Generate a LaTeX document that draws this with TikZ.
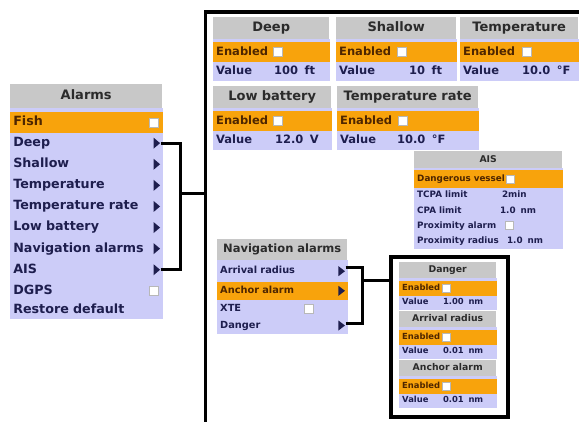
\documentclass[tikz,border=0pt]{standalone}
\usepackage{fontspec}
\setmainfont[WordSpace=1.6]{DejaVu Sans}
\usetikzlibrary{positioning,shapes.geometric}
\definecolor{alarmInk}{HTML}{1E1E4E}
\definecolor{alarmBrown}{HTML}{4E2600}
\definecolor{alarmDark}{HTML}{2B2B2B}
\definecolor{alarmGray}{HTML}{C8C8C8}
\definecolor{alarmOrange}{HTML}{F8A30C}
\definecolor{alarmLilac}{HTML}{CCCCF8}
\tikzset{
  txt head/.style={font=\bfseries\fontsize{13}{14}\selectfont, text height=9.5pt, text depth=2.5pt},
  txt menu/.style={font=\bfseries\fontsize{12.7}{13}\selectfont, text height=9.2pt, text depth=2.5pt},
  txt big/.style={font=\bfseries\fontsize{11.5}{12}\selectfont, text height=8.5pt, text depth=2.5pt},
  txt mid head/.style={font=\bfseries\fontsize{11.5}{12}\selectfont, text height=8.5pt, text depth=2.5pt},
  txt mid/.style={font=\bfseries\fontsize{9.8}{10}\selectfont, text height=7.2pt, text depth=2pt},
  txt small head/.style={font=\bfseries\fontsize{9.3}{10}\selectfont, text height=7pt, text depth=2pt},
  txt small/.style={font=\bfseries\fontsize{8.4}{9}\selectfont, text height=6.2pt, text depth=1.8pt},
  txt ais/.style={font=\bfseries\fontsize{8.8}{9}\selectfont, text height=6.5pt, text depth=1.8pt},
  alarm cell/.style={anchor=north west, inner xsep=3pt, inner ysep=0pt, align=left},
  alarm head/.style={alarm cell, fill=alarmGray, text=alarmDark, align=center},
  alarm on/.style={alarm cell, fill=alarmOrange, draw=alarmOrange, line width=0.6pt, text=alarmBrown},
  alarm row/.style={alarm cell, fill=alarmLilac, draw=alarmLilac, line width=0.6pt, text=alarmInk},
  alarm num/.style={anchor=base west, inner sep=0pt, text=alarmInk},
  alarm check/.style={draw=black!28, fill=white, line width=0.6pt, inner sep=0pt, minimum size=#1},
  alarm check/.default=9pt,
  alarm tip/.style={isosceles triangle, isosceles triangle stretches, fill=alarmInk,
    inner sep=0pt, minimum width=11pt, minimum height=6.5pt},
  alarm frame/.style={draw=black, line width=4pt, anchor=north west, inner sep=0pt},
  alarm link/.style={draw=black, line width=3pt},
  alarm spine/.style={draw=black, line width=3.5pt},
  menu row/.style={alarm row, txt menu, text width=146pt, minimum height=20.5pt},
  big head/.style={alarm head, txt head, minimum height=22pt},
  big on/.style={alarm on, txt big, minimum height=19pt},
  big row/.style={alarm row, txt big, minimum height=18pt},
  mid head/.style={alarm head, txt mid head, minimum height=21pt},
  mid on/.style={alarm on, txt mid},
  mid row/.style={alarm row, txt mid},
  small head/.style={alarm head, txt small head},
  small on/.style={alarm on, txt small},
  small row/.style={alarm row, txt small}
}

\begin{document}
\begin{tikzpicture}[x=1pt,y=-1pt]
  \useasboundingbox (0,0) rectangle (579,421);
  % main alarms menu
  \node[alarm head, txt head, text width=146pt, minimum height=24pt] (alarms) at (10,84) {Alarms};
  \node[alarm on, txt menu, text width=146pt, minimum height=20pt] (fish) at (10,112) {Fish};
  \fill[alarmLilac] (alarms.south west) rectangle (fish.north east);
  \node[menu row, below=0pt of fish] (deep) {Deep};
  \node[menu row, below=0pt of deep] (shallow) {Shallow};
  \node[menu row, below=0pt of shallow] (temp) {Temperature};
  \node[menu row, below=0pt of temp] (tempRate) {Temperature rate};
  \node[menu row, below=0pt of tempRate] (lowBatt) {Low battery};
  \node[menu row, below=0pt of lowBatt] (navAlarms) {Navigation alarms};
  \node[menu row, below=0pt of navAlarms] (ais) {AIS};
  \node[menu row, below=0pt of ais] (dgps) {DGPS};
  \node[menu row, below=0pt of dgps, minimum height=17pt] (restore) {Restore default};
  \node[alarm check, left=4pt of fish.east] (fishBox) {};
  \node[alarm check, left=4pt of dgps.east] (dgpsBox) {};
  \node[alarm tip, left=2pt of deep.east] (deepTip) {};
  \node[alarm tip, left=2pt of shallow.east] (shallowTip) {};
  \node[alarm tip, left=2pt of temp.east] (tempTip) {};
  \node[alarm tip, left=2pt of tempRate.east] (tempRateTip) {};
  \node[alarm tip, left=2pt of lowBatt.east] (lowBattTip) {};
  \node[alarm tip, left=2pt of navAlarms.east] (navAlarmsTip) {};
  \node[alarm tip, left=2pt of ais.east] (aisTip) {};

  % bracket and spine
  \coordinate (spineTop) at (205.5,12);
  \coordinate (spineEnd) at (205.5,423);
  \coordinate (spineRight) at (581,12);
  \coordinate (alarmJoin) at (180,193);
  \draw[alarm link] (deepTip.east) -| (alarmJoin);
  \draw[alarm link] (aisTip.east) -| (alarmJoin);
  \draw[alarm link] (alarmJoin) -- (alarmJoin -| spineTop);
  \draw[alarm spine] (spineRight) -- (spineTop) -- (spineEnd);

  % deep / shallow / temperature
  \node[big head, text width=110pt] (deepHead) at (213,17) {Deep};
  \node[big on, text width=110pt, below=3pt of deepHead] (deepOn) {Enabled};
  \node[big row, text width=110pt, below=0pt of deepOn] (deepVal) {Value};
  \fill[alarmLilac] (deepHead.south west) rectangle (deepOn.north east);
  \node[alarm check] (deepBox) at ([xshift=65pt]deepOn.west) {};
  \node[alarm num, txt big] (deepNum) at ([xshift=61pt]deepVal.base west) {100 ft};

  \node[big head, text width=114pt] (shallowHead) at (336,17) {Shallow};
  \node[big on, text width=114pt, below=3pt of shallowHead] (shallowOn) {Enabled};
  \node[big row, text width=114pt, below=0pt of shallowOn] (shallowVal) {Value};
  \fill[alarmLilac] (shallowHead.south west) rectangle (shallowOn.north east);
  \node[alarm check] (shallowBox) at ([xshift=66pt]shallowOn.west) {};
  \node[alarm num, txt big] (shallowNum) at ([xshift=73pt]shallowVal.base west) {10 ft};

  \node[big head, text width=112pt] (tempHead) at (460,17) {Temperature};
  \node[big on, text width=112pt, below=3pt of tempHead] (tempOn) {Enabled};
  \node[big row, text width=112pt, below=0pt of tempOn] (tempVal) {Value};
  \fill[alarmLilac] (tempHead.south west) rectangle (tempOn.north east);
  \node[alarm check] (tempBox) at ([xshift=67pt]tempOn.west) {};
  \node[alarm num, txt big] (tempNum) at ([xshift=62pt]tempVal.base west) {10.0 °F};

  % low battery / temperature rate
  \node[big head, text width=112pt] (lowBattHead) at (213,86) {Low battery};
  \node[big on, text width=112pt, below=3pt of lowBattHead] (lowBattOn) {Enabled};
  \node[big row, text width=112pt, below=0pt of lowBattOn] (lowBattVal) {Value};
  \fill[alarmLilac] (lowBattHead.south west) rectangle (lowBattOn.north east);
  \node[alarm check] (lowBattBox) at ([xshift=65pt]lowBattOn.west) {};
  \node[alarm num, txt big] (lowBattNum) at ([xshift=62pt]lowBattVal.base west) {12.0 V};

  \node[big head, text width=135pt] (tempRateHead) at (337,86) {Temperature rate};
  \node[big on, text width=135pt, below=3pt of tempRateHead] (tempRateOn) {Enabled};
  \node[big row, text width=135pt, below=0pt of tempRateOn] (tempRateVal) {Value};
  \fill[alarmLilac] (tempRateHead.south west) rectangle (tempRateOn.north east);
  \node[alarm check] (tempRateBox) at ([xshift=66pt]tempRateOn.west) {};
  \node[alarm num, txt big] (tempRateNum) at ([xshift=60pt]tempRateVal.base west) {10.0 °F};

  % AIS
  \node[small head, text width=142pt, minimum height=17pt] (aisHead) at (414,151) {AIS};
  \node[small on, txt ais, text width=142pt, minimum height=17pt, below=2pt of aisHead] (aisDanger) {Dangerous vessel};
  \fill[alarmLilac] (aisHead.south west) rectangle (aisDanger.north east);
  \node[small row, txt ais, text width=142pt, minimum height=14.5pt, below=0pt of aisDanger] (aisTcpa) {TCPA limit};
  \node[small row, txt ais, text width=142pt, minimum height=14.5pt, below=0pt of aisTcpa] (aisCpa) {CPA limit};
  \node[small row, txt ais, text width=142pt, minimum height=14.5pt, below=0pt of aisCpa] (aisProx) {Proximity alarm};
  \node[small row, txt ais, text width=142pt, minimum height=14.5pt, below=0pt of aisProx] (aisRadius) {Proximity radius};
  \node[alarm check=8pt] (aisDangerBox) at ([xshift=96pt]aisDanger.west) {};
  \node[alarm num, txt ais] (aisTcpaNum) at ([xshift=88pt]aisTcpa.base west) {2min};
  \node[alarm num, txt ais] (aisCpaNum) at ([xshift=86pt]aisCpa.base west) {1.0 nm};
  \node[alarm check=8pt] (aisProxBox) at ([xshift=95pt]aisProx.west) {};
  \node[alarm num, txt ais] (aisRadiusNum) at ([xshift=93pt]aisRadius.base west) {1.0 nm};

  % navigation alarms
  \node[mid head, text width=124pt] (navHead) at (217,239) {Navigation alarms};
  \node[mid row, text width=124pt, minimum height=21pt, below=0pt of navHead] (navArrival) {Arrival radius};
  \node[mid on, text width=124pt, minimum height=17pt, below=0pt of navArrival] (navAnchor) {Anchor alarm};
  \node[mid row, text width=124pt, minimum height=17pt, below=0pt of navAnchor] (navXte) {XTE};
  \node[mid row, text width=124pt, minimum height=16pt, below=0pt of navXte] (navDanger) {Danger};
  \node[alarm check] (navXteBox) at ([xshift=92pt]navXte.west) {};
  \node[alarm tip, minimum width=10pt, left=2pt of navArrival.east] (arrivalTip) {};
  \node[alarm tip, minimum width=10pt, left=2pt of navAnchor.east] (anchorTip) {};
  \node[alarm tip, minimum width=10pt, left=2pt of navDanger.east] (dangerTip) {};

  \coordinate (navJoin) at (362,280);
  \node[alarm frame, minimum width=117pt, minimum height=160.5pt] (navBox) at (389,254.5) {};
  \draw[alarm link] ([yshift=4pt]arrivalTip.east) -| (navJoin);
  \draw[alarm link] ([yshift=2pt]dangerTip.east) -| (navJoin);
  \draw[alarm link] (navJoin) -- (navJoin -| navBox.west);

  % panels inside the box
  \node[small head, text width=91pt, minimum height=16pt] (dangerHead) at (399,262) {Danger};
  \node[small on, text width=91pt, minimum height=14pt, below=2.5pt of dangerHead] (dangerOn) {Enabled};
  \node[small row, text width=91pt, minimum height=13pt, below=0pt of dangerOn] (dangerVal) {Value};
  \fill[alarmLilac] (dangerHead.south west) rectangle (dangerOn.north east);
  \node[alarm check=8pt] (dangerBox) at ([xshift=47pt]dangerOn.west) {};
  \node[alarm num, txt small] (dangerNum) at ([xshift=44pt]dangerVal.base west) {1.00 nm};

  \node[small head, text width=91pt, minimum height=16pt] (arrivalHead) at (399,311) {Arrival radius};
  \node[small on, text width=91pt, minimum height=14pt, below=2.5pt of arrivalHead] (arrivalOn) {Enabled};
  \node[small row, text width=91pt, minimum height=13pt, below=0pt of arrivalOn] (arrivalVal) {Value};
  \fill[alarmLilac] (arrivalHead.south west) rectangle (arrivalOn.north east);
  \node[alarm check=8pt] (arrivalBox) at ([xshift=47pt]arrivalOn.west) {};
  \node[alarm num, txt small] (arrivalNum) at ([xshift=44pt]arrivalVal.base west) {0.01 nm};

  \node[small head, text width=91pt, minimum height=16pt] (anchorHead) at (399,360) {Anchor alarm};
  \node[small on, text width=91pt, minimum height=14pt, below=2.5pt of anchorHead] (anchorOn) {Enabled};
  \node[small row, text width=91pt, minimum height=13pt, below=0pt of anchorOn] (anchorVal) {Value};
  \fill[alarmLilac] (anchorHead.south west) rectangle (anchorOn.north east);
  \node[alarm check=8pt] (anchorBox) at ([xshift=47pt]anchorOn.west) {};
  \node[alarm num, txt small] (anchorNum) at ([xshift=44pt]anchorVal.base west) {0.01 nm};
\end{tikzpicture}
\end{document}
